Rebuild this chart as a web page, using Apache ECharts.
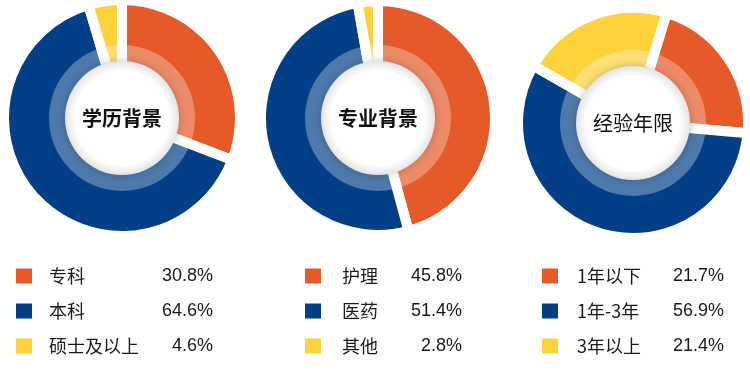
<!DOCTYPE html>
<html>
<head>
<meta charset="utf-8">
<script src="https://cdn.jsdelivr.net/npm/echarts@6/dist/echarts.min.js"></script>
<style>
html,body{margin:0;padding:0;background:#fff;}
#main{width:750px;height:389px;}
</style>
</head>
<body>
<div id="main"></div>
<script>
// ---- data ----
const eduTitle = '学历背景';
const eduNames = ['专科', '本科', '硕士及以上'];
const eduValues = [30.8, 64.6, 4.6];

const majorTitle = '专业背景';
const majorNames = ['护理', '医药', '其他'];
const majorValues = [45.8, 51.4, 2.8];

const expTitle = '经验年限';
const expNames = ['1年以下', '1年-3年', '3年以上'];
const expValues = [21.7, 56.9, 21.4];

const colors = ['#E55A28', '#023F87', '#FDD23A'];
const FONT = '"Liberation Sans", Arial, "Noto Sans CJK SC", sans-serif';
const CJK = '"Noto Sans CJK SC", "Liberation Sans", sans-serif';

const groups = [
  {title: eduTitle, names: eduNames, values: eduValues, center: [122, 118], r: 113, start: 90, bold: 'bold',
   legendLeft: 16, pad: 12, nameW: 104},
  {title: majorTitle, names: majorNames, values: majorValues, center: [378, 118], r: 112, start: 90, bold: 'bold',
   legendLeft: 305, pad: 16, nameW: 60},
  {title: expTitle, names: expNames, values: expValues, center: [633, 123], r: 110, start: 73, bold: 'normal',
   legendLeft: 542, pad: 14, nameW: 87}
];

const BW = 10;
const series = [];
const legends = [];

groups.forEach(function (g, gi) {
  // main solid ring
  series.push({
    type: 'pie',
    name: g.title,
    center: g.center,
    radius: [50, g.r + BW / 2],
    startAngle: g.start,
    clockwise: true,
    label: {show: false},
    labelLine: {show: false},
    emphasis: {scale: false},
    itemStyle: {borderColor: '#ffffff', borderWidth: BW},
    data: g.names.map(function (n, i) {
      return {name: n, value: g.values[i], itemStyle: {color: colors[i]}};
    }),
    z: 2
  });
  // light inner band overlay
  series.push({
    type: 'pie',
    name: g.title + '-band',
    center: g.center,
    radius: [55, 73],
    silent: true,
    label: {show: false},
    labelLine: {show: false},
    itemStyle: {color: 'rgba(255,255,255,0.3)'},
    data: [{name: '', value: 1}],
    z: 3
  });
  // white center disc with title
  series.push({
    type: 'pie',
    name: g.title + '-center',
    center: g.center,
    radius: [0, 57],
    silent: true,
    labelLine: {show: false},
    label: {
      show: true, position: 'center', formatter: g.title,
      fontSize: 20, fontWeight: g.bold, color: '#111111', fontFamily: CJK
    },
    itemStyle: {
      color: {
        type: 'radial', x: 0.5, y: 0.5, r: 0.5,
        colorStops: [
          {offset: 0, color: '#ffffff'},
          {offset: 0.82, color: '#ffffff'},
          {offset: 1, color: '#e4e4e4'}
        ]
      },
      shadowBlur: 8,
      shadowColor: 'rgba(0,0,0,0.22)'
    },
    data: [{name: g.title, value: 1}],
    z: 4
  });

  legends.push({
    orient: 'vertical',
    left: g.legendLeft,
    top: 267,
    padding: 0,
    icon: 'rect',
    itemWidth: 16,
    itemHeight: 15,
    itemGap: 17,
    itemStyle: {borderWidth: 0},
    data: g.names,
    formatter: function (name) {
      const idx = g.names.indexOf(name);
      return '{p| }{n|' + name + '}{v|' + g.values[idx].toFixed(1) + '%}';
    },
    textStyle: {
      fontSize: 18,
      lineHeight: 15,
      color: '#1a1a1a',
      fontFamily: FONT,
      rich: {
        p: {width: g.pad, fontSize: 18, lineHeight: 15},
        n: {width: g.nameW, fontSize: 18, lineHeight: 15, color: '#1a1a1a', fontFamily: CJK},
        v: {width: 60, align: 'right', fontSize: 18, lineHeight: 15, color: '#1a1a1a', fontFamily: FONT}
      }
    }
  });
});

const chart = echarts.init(document.getElementById('main'), null, {renderer: 'canvas'});
chart.setOption({
  backgroundColor: '#ffffff',
  animation: false,
  legend: legends,
  series: series
});
</script>
</body>
</html>
